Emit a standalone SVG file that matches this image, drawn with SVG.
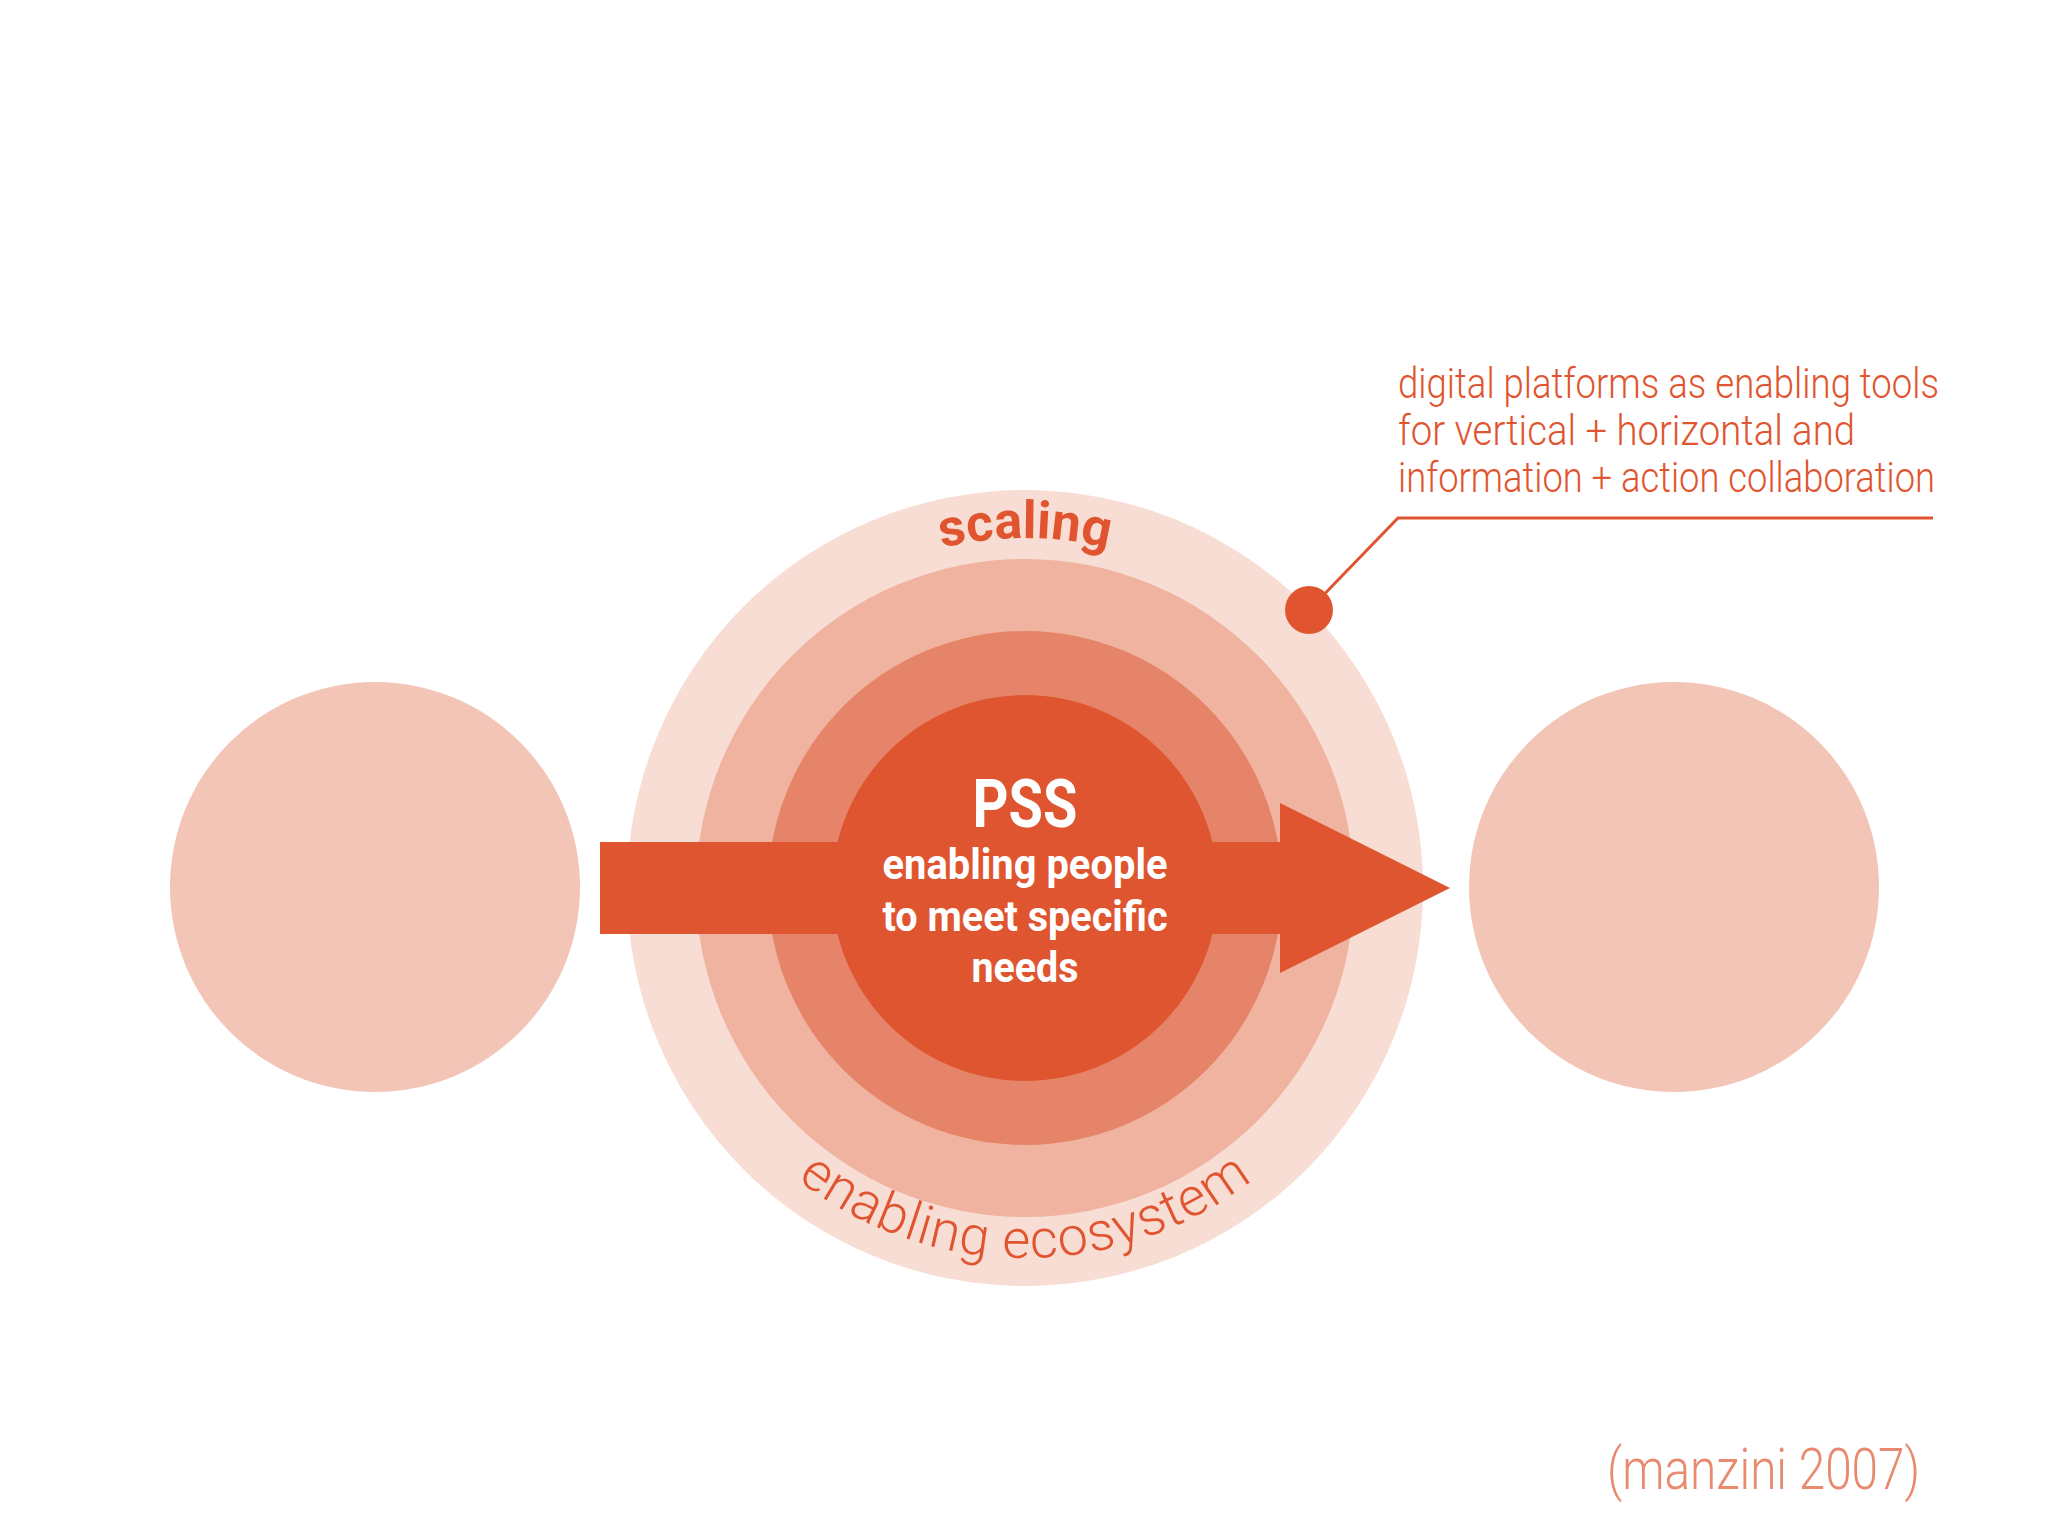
<svg xmlns="http://www.w3.org/2000/svg" width="2048" height="1536" viewBox="0 0 2048 1536">
<style>
.lt{font-family:Roboto,"Liberation Sans",sans-serif;font-weight:300;fill:#e0552f}
.bw{font-family:Roboto,"Liberation Sans",sans-serif;font-weight:700;fill:#fff;text-anchor:middle}
</style>
<defs>
<path id="top" d="M675,888 A350,350 0 0 1 1375,888"/>
<path id="bot" d="M655,888 A370,370 0 0 0 1395,888"/>
</defs>
<rect width="2048" height="1536" fill="#fff"/>
<g id="left"><circle cx="375" cy="887" r="205" fill="#f2c5b7"/></g>
<g id="right"><circle cx="1674" cy="887" r="205" fill="#f2c5b7"/></g>
<g id="rings">
<circle cx="1025" cy="888" r="398" fill="#f8ddd4"/>
<circle cx="1025" cy="888" r="329" fill="#f0b3a0"/>
<circle cx="1025" cy="888" r="257" fill="#e6846a"/>
</g>
<g id="connectors">
<polygon points="600,842 1280,842 1280,803 1450,888 1280,973 1280,934 600,934" fill="#df5530"/>
<polyline points="1309,610 1398,518 1933,518" fill="none" stroke="#e0552f" stroke-width="3"/>
<circle cx="1309" cy="610" r="24" fill="#e0552f"/>
</g>
<g id="pss">
<circle cx="1025" cy="888" r="193" fill="#df5530"/>
<text class="bw" x="1025" y="827" font-size="66" textLength="105" lengthAdjust="spacingAndGlyphs">PSS</text>
<text class="bw" x="1025" y="879" font-size="42" textLength="285" lengthAdjust="spacingAndGlyphs">enabling people</text>
<text class="bw" x="1025" y="931" font-size="42" textLength="285" lengthAdjust="spacingAndGlyphs">to meet specific</text>
<text class="bw" x="1025" y="982" font-size="42" textLength="107" lengthAdjust="spacingAndGlyphs">needs</text>
</g>
<g id="arclabels">
<text font-family="Roboto,'Liberation Sans',sans-serif" font-weight="700" font-size="52" fill="#e0552f" text-anchor="middle"><textPath href="#top" startOffset="50%">scaling</textPath></text>
<text class="lt" font-size="54" text-anchor="middle" letter-spacing="1"><textPath href="#bot" startOffset="50%">enabling ecosystem</textPath></text>
</g>
<g id="note">
<text class="lt" x="1398" y="398" font-size="42" textLength="541" lengthAdjust="spacingAndGlyphs">digital platforms as enabling tools</text>
<text class="lt" x="1398" y="445" font-size="42" textLength="457" lengthAdjust="spacingAndGlyphs">for vertical + horizontal and</text>
<text class="lt" x="1398" y="492" font-size="42" textLength="537" lengthAdjust="spacingAndGlyphs">information + action collaboration</text>
</g>
<text class="lt" x="1607" y="1489" font-size="58" textLength="313" lengthAdjust="spacingAndGlyphs" fill="#e88a6f" style="fill:#e88a6f">(manzini 2007)</text>
</svg>
